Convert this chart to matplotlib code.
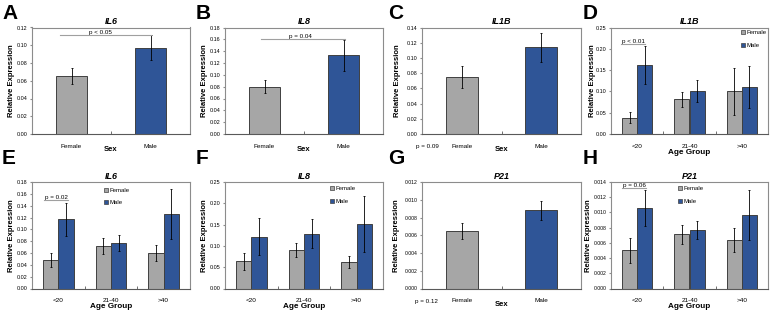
import matplotlib
matplotlib.use("Agg")
import matplotlib.pyplot as plt
import numpy as np
from matplotlib.patches import Patch
from matplotlib.ticker import FormatStrFormatter

plt.rcParams['font.family'] = ['Liberation Sans', 'DejaVu Sans']

W, H = 771, 312

sex_cats = ["Female", "Male"]
age_cats = ["<20", "21-40", ">40"]

# panels by sex: means and error bars
il6_sex = [0.065, 0.097]
il6_sex_err = [0.009, 0.014]
il8_sex = [0.080, 0.133]
il8_sex_err = [0.011, 0.026]
il1b_sex = [0.075, 0.114]
il1b_sex_err = [0.014, 0.019]
p21_sex = [0.0065, 0.0088]
p21_sex_err = [0.0009, 0.0011]

# panels by age group
il1b_f = [0.038, 0.081, 0.100]
il1b_f_err = [0.013, 0.017, 0.056]
il1b_m = [0.162, 0.100, 0.110]
il1b_m_err = [0.044, 0.026, 0.050]

il6_f = [0.048, 0.072, 0.060]
il6_f_err = [0.012, 0.014, 0.014]
il6_m = [0.117, 0.077, 0.126]
il6_m_err = [0.028, 0.014, 0.042]

il8_f = [0.064, 0.091, 0.062]
il8_f_err = [0.020, 0.016, 0.014]
il8_m = [0.122, 0.128, 0.151]
il8_m_err = [0.044, 0.034, 0.065]

p21_f = [0.0050, 0.0071, 0.0064]
p21_f_err = [0.0016, 0.0012, 0.0016]
p21_m = [0.0106, 0.0077, 0.0097]
p21_m_err = [0.0024, 0.0012, 0.0033]

GRAY = '#a6a6a6'
BLUE = '#2f5597'
EDGE = '#404040'
FRAME = '#8c8c8c'


def place(l, r, t, b):
    return [l / W, 1 - b / H, (r - l) / W, (b - t) / H]


def style(ax, title, ymax, ystep, fmt, xlabel, nx, ylab_px):
    ax.set_xlim(-0.5, nx - 0.5)
    ax.set_ylim(0, ymax)
    ax.set_yticks(np.arange(0, ymax + ystep / 2, ystep))
    ax.yaxis.set_major_formatter(FormatStrFormatter(fmt))
    ax.set_xticks(range(nx))
    ax.set_xticks(np.arange(0.5, nx - 0.5, 1), minor=True)
    ax.tick_params(axis='x', which='major', length=0, pad=7, labelsize=4.6)
    ax.tick_params(axis='x', which='minor', length=2, direction='in', color='#595959')
    ax.tick_params(axis='y', length=1.5, pad=2, labelsize=3.9 if fmt == '%.2f' else 3.7,
                   color=FRAME)
    for s in ax.spines.values():
        s.set_color(FRAME)
        s.set_linewidth(0.8)
    ax.spines['bottom'].set_color('#595959')
    ax.set_title(title, fontsize=6.5, fontweight='bold', style='italic', pad=2.5)
    ax.set_ylabel('Relative Expression', fontsize=5.5, fontweight='bold')
    # right edge of the rotated label, in axes fraction
    wpx = ax.get_position().width * W
    ax.yaxis.set_label_coords(-(ylab_px - 3.5) / wpx, 0.5)
    ax.set_xlabel(xlabel, fontsize=5.5 if xlabel == 'Sex' else 5.9, fontweight='bold')


def draw_sex(ax, title, vals, errs, ymax, ystep, fmt, ylab_px):
    ax.bar(range(2), vals, width=0.4, color=[GRAY, BLUE], edgecolor=EDGE, linewidth=0.7,
           yerr=errs, error_kw=dict(elinewidth=0.6, capsize=1, capthick=0.6, ecolor='black'))
    style(ax, title, ymax, ystep, fmt, 'Sex', 2, ylab_px)
    ax.set_xticklabels(sex_cats)
    ax.xaxis.set_label_coords(0.5, -0.115)


def draw_age(ax, title, f, fe, m, me, ymax, ystep, fmt, leg_xy, ylab_px):
    x = np.arange(3)
    w = 0.29
    ek = dict(elinewidth=0.6, capsize=1, capthick=0.6, ecolor='black')
    ax.bar(x - w / 2, f, width=w, color=GRAY, edgecolor=EDGE, linewidth=0.7, yerr=fe, error_kw=ek)
    ax.bar(x + w / 2, m, width=w, color=BLUE, edgecolor=EDGE, linewidth=0.7, yerr=me, error_kw=ek)
    style(ax, title, ymax, ystep, fmt, 'Age Group', 3, ylab_px)
    ax.set_xticklabels(age_cats)
    ax.xaxis.set_label_coords(0.5, -0.14)
    handles = [Patch(facecolor=GRAY, edgecolor=EDGE, linewidth=0.5, label='Female'),
               Patch(facecolor=BLUE, edgecolor=EDGE, linewidth=0.5, label='Male')]
    ax.legend(handles=handles, loc='upper left', bbox_to_anchor=leg_xy, frameon=False,
              fontsize=4.3, handlelength=0.7, handleheight=0.7, handletextpad=0.2,
              labelspacing=1.2, borderpad=0, borderaxespad=0)


def bracket(ax, x0, x1, y, text, tx, drop=0.0):
    ax.plot([x0, x1, x1], [y, y, y - drop], color='#a0a0a0', linewidth=0.8, clip_on=False)
    ax.text(tx, y, text, fontsize=4.5, ha='center', va='bottom')


fig = plt.figure(figsize=(W / 100, H / 100), dpi=100)
fig.set_facecolor('white')

row1 = (27.5, 134)
row2 = (182, 288.5)
cols = [(32, 190), (225, 383), (422, 581), (611, 768)]

axA = fig.add_axes(place(cols[0][0], cols[0][1], *row1))
draw_sex(axA, 'IL6', il6_sex, il6_sex_err, 0.12, 0.02, '%.2f', 20)
bracket(axA, -0.15, 1.0, 0.112, 'p < 0.05', 0.36, drop=0.001)

axB = fig.add_axes(place(cols[1][0], cols[1][1], *row1))
draw_sex(axB, 'IL8', il8_sex, il8_sex_err, 0.18, 0.02, '%.2f', 20)
bracket(axB, -0.04, 1.02, 0.161, 'p = 0.04', 0.45)

axC = fig.add_axes(place(cols[2][0], cols[2][1], *row1))
draw_sex(axC, 'IL1B', il1b_sex, il1b_sex_err, 0.14, 0.02, '%.2f', 25)
axC.text(-0.04, -0.115, 'p = 0.09', transform=axC.transAxes, fontsize=4.5, va='center')

axD = fig.add_axes(place(cols[3][0], cols[3][1], *row1))
draw_age(axD, 'IL1B', il1b_f, il1b_f_err, il1b_m, il1b_m_err, 0.25, 0.05, '%.2f', (0.83, 0.975), 19)
bracket(axD, -0.31, 0.15, 0.211, 'p < 0.01', -0.08)

axE = fig.add_axes(place(cols[0][0], cols[0][1], *row2))
draw_age(axE, 'IL6', il6_f, il6_f_err, il6_m, il6_m_err, 0.18, 0.02, '%.2f', (0.456, 0.945), 20)
bracket(axE, -0.27, 0.18, 0.150, 'p = 0.02', -0.045)

axF = fig.add_axes(place(cols[1][0], cols[1][1], *row2))
draw_age(axF, 'IL8', il8_f, il8_f_err, il8_m, il8_m_err, 0.25, 0.05, '%.2f', (0.665, 0.96), 20)

axG = fig.add_axes(place(cols[2][0], cols[2][1], *row2))
draw_sex(axG, 'P21', p21_sex, p21_sex_err, 0.012, 0.002, '%.3f', 26)
axG.text(-0.045, -0.125, 'p = 0.12', transform=axG.transAxes, fontsize=4.5, va='center')

axH = fig.add_axes(place(cols[3][0], cols[3][1], *row2))
draw_age(axH, 'P21', p21_f, p21_f_err, p21_m, p21_m_err, 0.014, 0.002, '%.3f', (0.427, 0.96), 23)
bracket(axH, -0.29, 0.17, 0.0132, 'p = 0.06', -0.06)

letters = [('A', 2, 4), ('B', 196, 4), ('C', 388, 4), ('D', 583, 4),
           ('E', 2, 149), ('F', 196, 149), ('G', 388, 149), ('H', 583, 149)]
for s, px, py in letters:
    fig.text(px / W, 1 - py / H, s, fontsize=15, fontweight='bold', ha='left', va='top')

fig.savefig('out.png', dpi=100, facecolor='white')
